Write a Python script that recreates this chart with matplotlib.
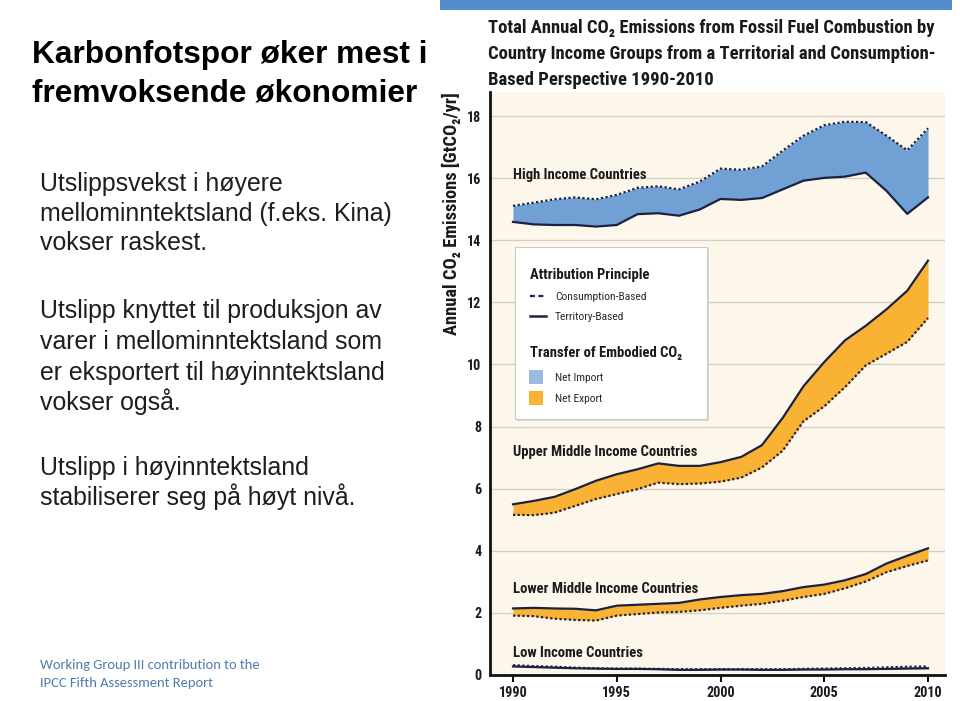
import matplotlib
matplotlib.use('Agg')
import matplotlib.pyplot as plt
from matplotlib import font_manager as fm
from matplotlib.patches import Rectangle
from matplotlib.lines import Line2D

W, H = 960, 701

# ---------------- data ----------------
years = list(range(1990, 2011))

high_terr = [14.60, 14.52, 14.50, 14.50, 14.45, 14.50, 14.85, 14.88, 14.80, 15.00,
             15.34, 15.31, 15.37, 15.65, 15.93, 16.02, 16.06, 16.19, 15.60, 14.86, 15.39]
high_cons = [15.12, 15.22, 15.33, 15.39, 15.33, 15.47, 15.70, 15.75, 15.65, 15.90,
             16.32, 16.28, 16.39, 16.90, 17.38, 17.72, 17.83, 17.82, 17.38, 16.91, 17.62]

upper_terr = [5.49, 5.60, 5.73, 5.98, 6.25, 6.46, 6.62, 6.81, 6.73, 6.73,
              6.85, 7.02, 7.40, 8.28, 9.30, 10.08, 10.78, 11.25, 11.78, 12.38, 13.35]
upper_cons = [5.15, 5.14, 5.22, 5.44, 5.66, 5.82, 5.98, 6.19, 6.14, 6.16,
              6.22, 6.35, 6.68, 7.22, 8.17, 8.65, 9.27, 9.97, 10.35, 10.73, 11.50]

lower_terr = [2.13, 2.15, 2.13, 2.12, 2.07, 2.22, 2.25, 2.28, 2.31, 2.42,
              2.50, 2.56, 2.60, 2.69, 2.82, 2.90, 3.04, 3.24, 3.58, 3.83, 4.07]
lower_cons = [1.90, 1.88, 1.80, 1.76, 1.74, 1.90, 1.95, 2.00, 2.02, 2.07,
              2.15, 2.22, 2.28, 2.38, 2.50, 2.60, 2.78, 3.00, 3.30, 3.50, 3.68]

low_terr = [0.26, 0.24, 0.22, 0.20, 0.19, 0.18, 0.18, 0.17, 0.15, 0.15,
            0.16, 0.16, 0.15, 0.15, 0.16, 0.16, 0.17, 0.17, 0.18, 0.19, 0.20]
low_cons = [0.30, 0.27, 0.25, 0.22, 0.20, 0.19, 0.19, 0.18, 0.17, 0.17,
            0.17, 0.17, 0.17, 0.17, 0.18, 0.19, 0.20, 0.21, 0.23, 0.25, 0.26]

group_names = ["High Income Countries", "Upper Middle Income Countries",
               "Lower Middle Income Countries", "Low Income Countries"]
group_label_y = [15.98, 7.04, 2.64, 0.56]

y_ticks = [0, 2, 4, 6, 8, 10, 12, 14, 16, 18]
x_ticks = [1990, 1995, 2000, 2005, 2010]

chart_title = ["Total Annual CO\u2082 Emissions from Fossil Fuel Combustion by",
               "Country Income Groups from a Territorial and Consumption-",
               "Based Perspective 1990-2010"]
y_label = "Annual CO\u2082 Emissions [GtCO\u2082/yr]"

slide_title = ["Karbonfotspor øker mest i", "fremvoksende økonomier"]
body1 = ["Utslippsvekst i høyere", "mellominntektsland (f.eks. Kina)", "vokser raskest."]
body2 = ["Utslipp knyttet til produksjon av", "varer i mellominntektsland som",
         "er eksportert til høyinntektsland", "vokser også."]
body3 = ["Utslipp i høyinntektsland", "stabiliserer seg på høyt nivå."]
footer = ["Working Group III contribution to the", "IPCC Fifth Assessment Report"]

# ---------------- styles ----------------
BLUE = '#70a0d4'
BLUE_LEG = '#9bbbe4'
ORANGE = '#f9b234'
NAVY = '#1b2240'
CREAM = '#fdf6ea'
GRID = '#d8cfc2'

installed = {f.name for f in fm.fontManager.ttflist}
def pick(*cands):
    for n in cands:
        if n in installed:
            return n
    return 'DejaVu Sans'

COND = pick('Liberation Sans Narrow', 'Roboto Condensed', 'DejaVu Sans Condensed', 'Roboto', 'Lato')
ARIAL = pick('Liberation Sans', 'Arimo', 'DejaVu Sans')
CAL = pick('Carlito', 'Lato', 'Open Sans')

fig = plt.figure(figsize=(W / 100, H / 100), dpi=100)
fig.patch.set_facecolor('white')
renderer = fig.canvas.get_renderer()

def fx(px):
    return px / W

def fy(py):
    return 1 - py / H

def measure(s, size, family, weight):
    t = fig.text(0, 0, s, fontsize=size, family=[family, 'DejaVu Sans'], weight=weight)
    w = t.get_window_extent(renderer).width
    t.remove()
    return w

def fit(s, target, family, weight='normal'):
    return 20.0 * target / measure(s, 20.0, family, weight)

def put(px, py, s, size, family, weight='normal', color='k', **kw):
    kw.setdefault('va', 'baseline')
    kw.setdefault('ha', 'left')
    return fig.text(fx(px), fy(py), s, fontsize=size, family=[family, 'DejaVu Sans'],
                    weight=weight, color=color, **kw)

# top blue bar
fig.patches.append(Rectangle((fx(440), fy(10)), fx(952) - fx(440), fy(0) - fy(10),
                             transform=fig.transFigure, color='#538dcb', lw=0))

# ---------------- slide text ----------------
s_title = fit(slide_title[0], 395, ARIAL, 'bold')
for i, line in enumerate(slide_title):
    put(32, 63 + i * 39, line, s_title, ARIAL, 'bold', '#000000')

s_body = fit(body1[1], 353, ARIAL)
for i, line in enumerate(body1):
    put(40, 191 + i * 29.5, line, s_body, ARIAL, 'normal', '#1e1e1e')
for i, line in enumerate(body2):
    put(40, 318 + i * 30.8, line, s_body, ARIAL, 'normal', '#1e1e1e')
for i, line in enumerate(body3):
    put(40, 475 + i * 30, line, s_body, ARIAL, 'normal', '#1e1e1e')

s_foot = fit(footer[0], 220, CAL)
for i, line in enumerate(footer):
    put(40, 669 + i * 18, line, s_foot, CAL, 'normal', '#4f7cae')

# ---------------- chart title ----------------
s_ct = fit(chart_title[0], 447, COND, 'bold')
for i, line in enumerate(chart_title):
    put(488, 33.3 + i * 25.9, line, s_ct, COND, 'bold', '#1a1a1a')

# y label
s_yl = fit(y_label, 243, COND, 'bold')
put(451, 213.5, y_label, s_yl, COND, 'bold', '#1a1a1a', rotation=90,
    ha='center', va='center')

# ---------------- axes ----------------
ax = fig.add_axes([fx(490), 1 - 674.5 / H, (945 - 490) / W, (674.5 - 92) / H])
ax.set_facecolor(CREAM)
ax.set_xlim(1990 - 23 / 20.75, 1990 + 432 / 20.75)
ax.set_ylim(0, 582.5 / 31.0)
for s in ['top', 'right']:
    ax.spines[s].set_visible(False)
for s in ['left', 'bottom']:
    ax.spines[s].set_linewidth(2.0)
    ax.spines[s].set_color('#111111')
ax.set_yticks(y_ticks)
ax.set_xticks(x_ticks)
ax.grid(axis='y', color=GRID, lw=1.0)
ax.set_axisbelow(True)

s_tick = fit("1990", 28.7, COND, 'bold')
ax.tick_params(axis='y', length=0, pad=6)
ax.tick_params(axis='x', length=5, width=1.5, pad=3, direction='out', color='#111111')
ax.set_yticklabels([str(v) for v in y_ticks], fontsize=s_tick, family=[COND, 'DejaVu Sans'],
                   weight='bold', color='#1a1a1a')
ax.set_xticklabels([str(v) for v in x_ticks], fontsize=s_tick, family=[COND, 'DejaVu Sans'],
                   weight='bold', color='#1a1a1a')

groups = [(high_terr, high_cons), (upper_terr, upper_cons),
          (lower_terr, lower_cons), (low_terr, low_cons)]
for terr, cons in groups:
    imp = [c >= t for t, c in zip(terr, cons)]
    exp = [c < t for t, c in zip(terr, cons)]
    ax.fill_between(years, terr, cons, where=imp, interpolate=True, color=BLUE, lw=0)
    ax.fill_between(years, terr, cons, where=exp, interpolate=True, color=ORANGE, lw=0)
    ax.plot(years, terr, color=NAVY, lw=1.6, solid_joinstyle='round')
    ax.plot(years, cons, color=NAVY, lw=1.6, ls=(0, (1, 1.1)))

s_grp = fit(group_names[1], 184, COND, 'bold')
for name, gy in zip(group_names, group_label_y):
    ax.text(1990, gy, name, fontsize=s_grp, family=[COND, 'DejaVu Sans'], weight='bold',
            color='#1a1a1a', va='baseline', ha='left')

# ---------------- legend ----------------
lx0, lx1, ly0, ly1 = 515, 706.7, 247.3, 419
fig.patches.append(Rectangle((fx(lx0 + 2), fy(ly1 + 2)), fx(lx1) - fx(lx0), fy(ly0) - fy(ly1),
                             transform=fig.transFigure, facecolor='#d9d4cc', lw=0, zorder=2))
fig.patches.append(Rectangle((fx(lx0), fy(ly1)), fx(lx1) - fx(lx0), fy(ly0) - fy(ly1),
                             transform=fig.transFigure, facecolor='white',
                             edgecolor='#c9c9c9', lw=0.8, zorder=2.1))

s_lh = fit("Attribution Principle", 118.3, COND, 'bold')
s_li = fit("Consumption-Based", 91, COND, 'normal')
put(530, 279, "Attribution Principle", s_lh, COND, 'bold', '#1a1a1a', zorder=3)
fig.lines.append(Line2D([fx(530), fx(544)], [fy(295.7), fy(295.7)], transform=fig.transFigure,
                        color=NAVY, lw=1.6, ls=(0, (2.2, 1.6)), zorder=3))
put(555, 299.6, "Consumption-Based", s_li, COND, 'normal', '#2a2a2a', zorder=3)
fig.lines.append(Line2D([fx(530), fx(546)], [fy(316), fy(316)], transform=fig.transFigure,
                        color=NAVY, lw=1.8, zorder=3))
put(555, 320.2, "Territory-Based", s_li, COND, 'normal', '#2a2a2a', zorder=3)
put(530, 357.3, "Transfer of Embodied CO\u2082", s_lh, COND, 'bold', '#1a1a1a', zorder=3)
fig.patches.append(Rectangle((fx(529.3), fy(384)), fx(543.3) - fx(529.3), fy(370) - fy(384),
                             transform=fig.transFigure, color=BLUE_LEG, lw=0, zorder=3))
put(555, 381, "Net Import", s_li, COND, 'normal', '#2a2a2a', zorder=3)
fig.patches.append(Rectangle((fx(529.3), fy(404.7)), fx(543.3) - fx(529.3), fy(390.7) - fy(404.7),
                             transform=fig.transFigure, color=ORANGE, lw=0, zorder=3))
put(555, 402, "Net Export", s_li, COND, 'normal', '#2a2a2a', zorder=3)

fig.savefig('out.png', dpi=100, facecolor='white')
